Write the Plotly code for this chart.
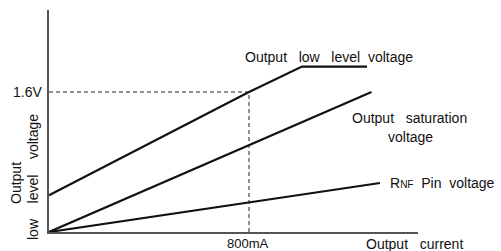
import plotly.graph_objects as go

# Data (x in mA, y in V)
low_x = [0, 800, 1012, 1272]
low_y = [0.42, 1.6, 1.89, 1.89]
sat_x = [0, 1290]
sat_y = [0, 1.6]
rnf_x = [0, 1324]
rnf_y = [0, 0.56]

ref_current = 800
ref_voltage = 1.6
x_max = 1476
y_max = 2.537

FONT = "Liberation Sans, Arial, sans-serif"
FS = 14
S2 = "\u00a0 "
S3 = "\u00a0\u00a0 "
S4 = "\u00a0\u00a0\u00a0 "

fig = go.Figure()
for xs, ys in [(low_x, low_y), (sat_x, sat_y), (rnf_x, rnf_y)]:
    fig.add_trace(go.Scatter(x=xs, y=ys, mode="lines",
                             line=dict(color="#111111", width=2.2),
                             showlegend=False, hoverinfo="skip"))

fig.add_shape(type="line", x0=0, x1=ref_current, y0=ref_voltage, y1=ref_voltage,
              line=dict(color="#222222", width=1, dash="4px,3px"))
fig.add_shape(type="line", x0=ref_current, x1=ref_current, y0=0, y1=ref_voltage,
              line=dict(color="#222222", width=1, dash="4px,3px"))

L, R, T, B = 49, 83, 10, 19
W, H = 501, 251

fig.update_layout(
    width=W, height=H,
    margin=dict(l=L, r=R, t=T, b=B),
    paper_bgcolor="white", plot_bgcolor="white",
    xaxis=dict(range=[0, x_max], showgrid=False, zeroline=False, showticklabels=False,
               showline=True, linecolor="#555555", linewidth=1.5, fixedrange=True),
    yaxis=dict(range=[0, y_max], showgrid=False, zeroline=False, showticklabels=False,
               showline=True, linecolor="#555555", linewidth=1.5, fixedrange=True),
    font=dict(family=FONT, size=FS, color="#111111"),
)


def pann(text, xp, yp, xanchor="center", angle=0, size=FS):
    pw, ph = W - L - R, H - T - B
    fig.add_annotation(text=text, x=(xp - L) / pw, y=1 - (yp - T) / ph,
                       xref="paper", yref="paper", xanchor=xanchor, yanchor="middle",
                       showarrow=False, textangle=angle,
                       font=dict(family=FONT, size=size, color="#111111"))


pann("1.6V", 44, 92, xanchor="right")
pann("800mA", 248, 243, size=13)
pann("Output" + S3 + "current", 414, 244)
pann("Output" + S3 + "low" + S3 + "level" + S2 + "voltage", 329, 57)
pann("Output" + S3 + "saturation", 409, 118)
pann("voltage", 410, 137)
pann("R<span style='font-size:10px'>NF</span>" + S2 + "Pin" + S2 + "voltage", 388, 183, xanchor="left")
pann("Output", 16, 183, angle=-90)
pann("low" + S4 + "level" + S4 + "voltage", 33, 177, angle=-90)

fig.write_html("out.html", config={"displayModeBar": False},
               post_script="document.body.style.margin='0';")
